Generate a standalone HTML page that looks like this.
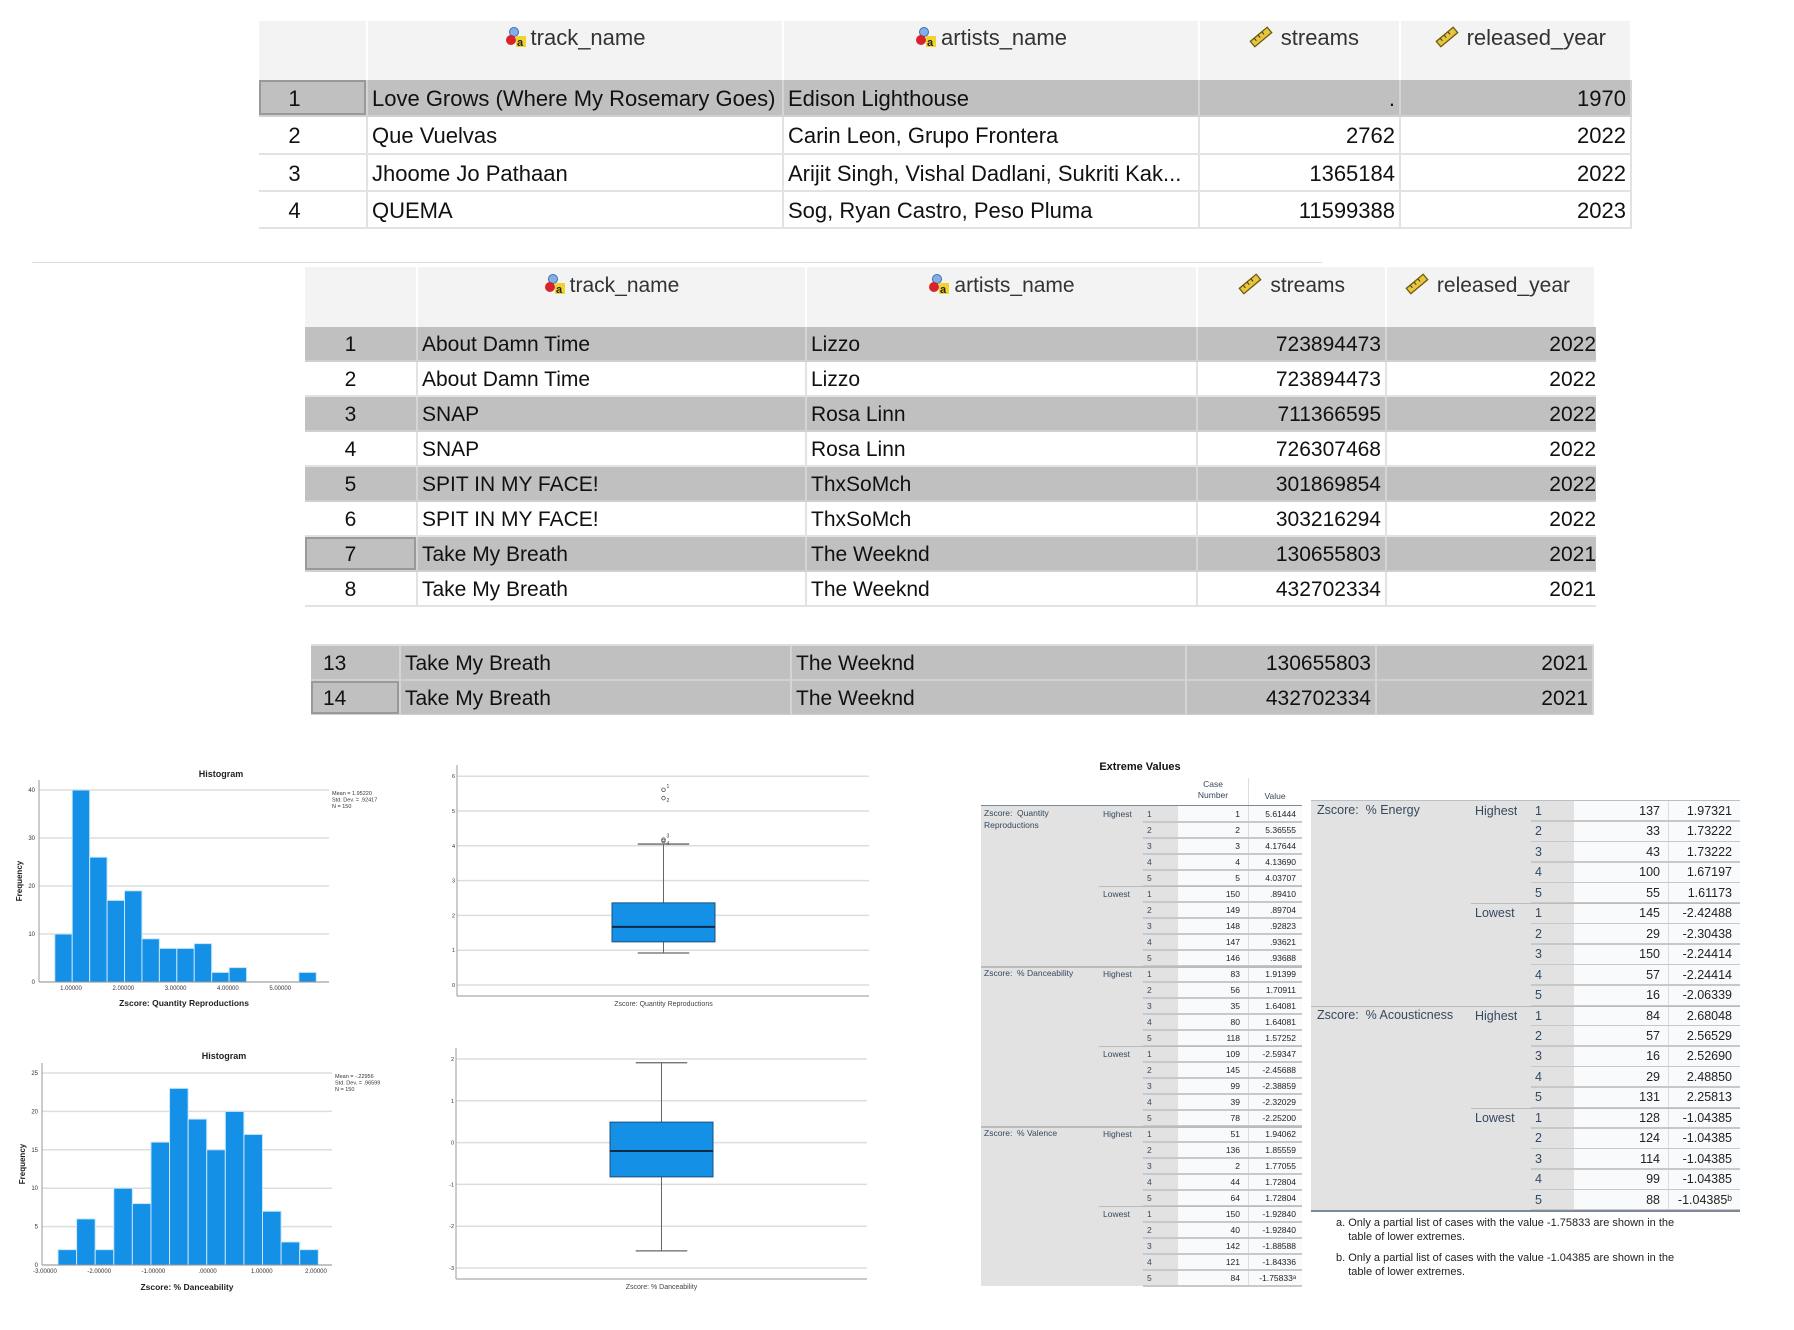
<!DOCTYPE html>
<html><head><meta charset="utf-8">
<style>
body{margin:0;width:1794px;height:1330px;background:#fff;position:relative;overflow:hidden;font-family:"Liberation Sans",Arial,sans-serif;}
.abs{position:absolute;}
.tbl{position:absolute;overflow:hidden;}
.cell{position:absolute;box-sizing:border-box;white-space:nowrap;overflow:hidden;color:#111;}
svg text{font-family:"Liberation Sans",Arial,sans-serif;}
</style></head>
<body>
<div id="tables"></div>
<div class="abs" style="left:32px;top:262px;width:1290px;height:1px;background:#ddd"></div>

<svg id="charts" class="abs" style="left:0;top:0" width="1794" height="1330"></svg>
<div id="ext"></div>

<script>
// ===== Data =====
const hist1Counts=[10,40,26,17,19,9,7,7,8,2,3,0,0,0,2];
const hist1Ticks=["1.00000","2.00000","3.00000","4.00000","5.00000"];
const hist1TickVals=[1,2,3,4,5];
const hist1YTicks=[0,10,20,30,40];
const hist2Counts=[2,6,2,10,8,16,23,19,15,20,17,7,3,2];
const hist2Ticks=["-3.00000","-2.00000","-1.00000",".00000","1.00000","2.00000"];
const hist2TickVals=[-3,-2,-1,0,1,2];
const hist2YTicks=[0,5,10,15,20,25];
const box1Stats=[0.92,1.24,1.67,2.36,4.05];
const box1Outliers=[5.61,5.37,4.18,4.14];
const box1OutLabels=["1","2","3","4"];
const box1YTicks=[0,1,2,3,4,5,6];
const box2Stats=[-2.59,-0.82,-0.20,0.49,1.91];
const box2YTicks=[-3,-2,-1,0,1,2];

const NS="http://www.w3.org/2000/svg";
const svg=document.getElementById('charts');
function mk(tag,attrs,parent){const e=document.createElementNS(NS,tag);for(const k in attrs)e.setAttribute(k,attrs[k]);(parent||svg).appendChild(e);return e;}
function txt(s,attrs,parent){const e=mk('text',attrs,parent);e.textContent=s;return e;}

// ===== Histograms =====
function histogram(cfg,counts,ticks,tickVals,yTicks,name){
  const g=mk('g',{});
  
  
  const x=v=>cfg.x0+(v-cfg.v0)*cfg.unit;
  const y=f=>cfg.yb-f*cfg.fu;
  yTicks.forEach(t=>{
    const l=mk('line',{x1:cfg.ax,x2:cfg.right,y1:y(t),y2:y(t),stroke:'#ddd','stroke-width':1.5},g);
    
    const tt=txt(String(t),{x:cfg.ax-4,y:y(t)+2,'font-size':6,'text-anchor':'end',fill:'#333'},g);
    
  });
  counts.forEach((c,i)=>{
    if(c<=0)return;
    const xa=x(cfg.start+i*cfg.bw),xb=x(cfg.start+(i+1)*cfg.bw);
    const r=mk('rect',{x:xa,y:y(c),width:xb-xa,height:y(0)-y(c),fill:'#1490e6',stroke:'#c8e6fb','stroke-width':1},g);
    
  });
  mk('line',{x1:cfg.ax,x2:cfg.ax,y1:cfg.top,y2:y(0),stroke:'#999','stroke-width':1},g);
  mk('line',{x1:cfg.ax,x2:cfg.right,y1:y(0),y2:y(0),stroke:'#999','stroke-width':1},g);
  ticks.forEach((t,i)=>{
    const tt=txt(t,{x:x(tickVals[i]),y:cfg.yb+8,'font-size':6,'text-anchor':'middle',fill:'#333'},g);
    
  });
  const ti=txt('Histogram',{x:cfg.tx,y:cfg.ty,'font-size':9,'font-weight':'bold','text-anchor':'middle',fill:'#222'},g);
  
  const fy=txt('Frequency',{x:0,y:0,'font-size':8,'font-weight':'bold','text-anchor':'middle',fill:'#222',transform:`translate(${cfg.ax-17},${(cfg.top+y(0))/2}) rotate(-90)`},g);
  
  const xt=txt(cfg.xtitle,{x:cfg.xtx,y:cfg.xty,'font-size':8.5,'font-weight':'bold','text-anchor':'middle',fill:'#222'},g);
  
  cfg.legend.forEach((s,i)=>{
    const lt=txt(s,{x:cfg.right+3,y:cfg.ly+i*6.5,'font-size':5.5,fill:'#333'},g);
    
  });
}
histogram({x0:71,v0:1,unit:52.3,ax:39,top:780,right:329,yb:982,fu:4.8,start:0.69,bw:1/3,tx:221,ty:777,xtitle:'Zscore:  Quantity Reproductions',xtx:184,xty:1006,ly:795,legend:['Mean = 1.95220','Std. Dev. = .92417','N = 150']},hist1Counts,hist1Ticks,hist1TickVals,hist1YTicks,'histogram-quantity-reproductions');
histogram({x0:45,v0:-3,unit:54.2,ax:42,top:1063,right:332,yb:1265,fu:7.68,start:-2.76,bw:0.343,tx:224,ty:1059,xtitle:'Zscore:  % Danceability',xtx:187,xty:1290,ly:1078,legend:['Mean = -.22956','Std. Dev. = .96599','N = 150']},hist2Counts,hist2Ticks,hist2TickVals,hist2YTicks,'histogram-danceability');

// ===== Boxplots =====
function boxplot(cfg,stats,yTicks,outs,outLabels,name){
  const g=mk('g',{});
  
  
  const y=v=>cfg.y0-(v-cfg.v0)*cfg.unit;
  yTicks.forEach(t=>{
    const l=mk('line',{x1:cfg.ax,x2:cfg.right,y1:y(t),y2:y(t),stroke:'#ddd','stroke-width':1.5},g);
    
    const tt=txt(String(t),{x:cfg.ax-2,y:y(t)+2,'font-size':5.5,'text-anchor':'end',fill:'#333'},g);
    
  });
  mk('line',{x1:cfg.ax,x2:cfg.ax,y1:cfg.top,y2:cfg.bottom,stroke:'#aaa','stroke-width':1.2},g);
  mk('line',{x1:cfg.ax,x2:cfg.right,y1:cfg.bottom,y2:cfg.bottom,stroke:'#aaa','stroke-width':1.2},g);
  const c=(cfg.bx1+cfg.bx2)/2, cw=(cfg.bx2-cfg.bx1)/4;
  const w=mk('line',{x1:c,x2:c,y1:y(stats[4]),y2:y(stats[0]),stroke:'#666','stroke-width':1},g);
  
  [stats[0],stats[4]].forEach(v=>{const cap=mk('line',{x1:c-cw,x2:c+cw,y1:y(v),y2:y(v),stroke:'#666','stroke-width':1.3},g);});
  const b=mk('rect',{x:cfg.bx1,y:y(stats[3]),width:cfg.bx2-cfg.bx1,height:y(stats[1])-y(stats[3]),fill:'#1490e6',stroke:'#1c4f7a','stroke-width':1},g);
  
  const m=mk('line',{x1:cfg.bx1,x2:cfg.bx2,y1:y(stats[2]),y2:y(stats[2]),stroke:'#0d2a44','stroke-width':2},g);
  
  outs.forEach((v,i)=>{
    const o=mk('circle',{cx:c,cy:y(v),r:1.8,fill:'none',stroke:'#555','stroke-width':0.8},g);
    
    const ol=txt(outLabels[i],{x:c+3,y:y(v)-(i%2?-4:2),'font-size':5,fill:'#333'},g);
    
  });
  const xt=txt(cfg.label,{x:c,y:cfg.bottom+10,'font-size':7,'text-anchor':'middle',fill:'#444'},g);
  
}
boxplot({ax:457,right:869,top:765,bottom:996,y0:985,v0:0,unit:34.8,bx1:612,bx2:715,label:'Zscore:  Quantity Reproductions'},box1Stats,box1YTicks,box1Outliers,box1OutLabels,'boxplot-quantity-reproductions');
boxplot({ax:456,right:867,top:1048,bottom:1279,y0:1059,v0:2,unit:41.8,bx1:610,bx2:713,label:'Zscore:  % Danceability'},box2Stats,box2YTicks,[],[],'boxplot-danceability');

// ===== Data view tables =====
const T=document.getElementById('tables');
function icon(kind){
  if(kind==='nom') return '<svg width="22" height="22" viewBox="0 0 22 22" style="vertical-align:-3px;margin-right:4px"><circle cx="9" cy="6" r="4.5" fill="#7fb0e6" stroke="#3a6fb0"/><circle cx="6" cy="14" r="5" fill="#d8232a"/><rect x="11" y="10" width="10" height="11" fill="#f2d22c"/><text x="12" y="20" font-size="11" font-weight="bold" fill="#222">a</text></svg>';
  return '<svg width="24" height="22" viewBox="0 0 24 22" style="vertical-align:-3px;margin-right:8px"><g transform="rotate(-40 12 11)"><rect x="1" y="7.5" width="22" height="7" fill="#e8c53a" stroke="#6b5a10" stroke-width="1.3"/><line x1="6" y1="8" x2="6" y2="11" stroke="#333"/><line x1="11" y1="8" x2="11" y2="11" stroke="#333"/><line x1="16" y1="8" x2="16" y2="11" stroke="#333"/></g></svg>';
}
function dataTable(opt){
  const d=document.createElement('div');d.className='tbl';
  
  
  d.style.cssText=`left:${opt.cols[0]}px;top:${opt.top}px;width:${opt.cols[5]-opt.cols[0]}px;height:${opt.height}px;font-size:${opt.fs}px`;
  T.appendChild(d);
  const X=i=>opt.cols[i]-opt.cols[0];
  let yy=0;
  if(opt.header){
    const hb=document.createElement('div');hb.className='cell';
    hb.style.cssText=`left:0;top:0;width:100%;height:${opt.hh}px;background:#f3f3f3`;d.appendChild(hb);
    const heads=[['',''],['track_name','nom'],['artists_name','nom'],['streams','scale'],['released_year','scale']];
    heads.forEach((h,i)=>{
      const c=document.createElement('div');c.className='cell';
      
      
      c.style.cssText=`left:${X(i)}px;top:0;width:${X(i+1)-X(i)}px;height:${opt.hh}px;border-right:2px solid #fff;text-align:center;padding-top:${opt.hpad}px;color:#333`;
      c.innerHTML=h[1]?icon(h[1])+h[0]:'';
      if(i>=3){c.style.textAlign='right';c.style.paddingRight=(i==3?40:24)+'px';}
      d.appendChild(c);
    });
    yy=opt.hh;
  }
  if(opt.partial){
    const p=document.createElement('div');p.className='cell';
    p.style.cssText=`left:0;top:0;width:100%;height:${opt.partial}px;background:#fff;border-bottom:2px solid #ddd`;
    d.appendChild(p);yy=opt.partial;
  }
  opt.rows.forEach((r,ri)=>{
    const gray=opt.gray(ri);
    for(let i=0;i<5;i++){
      const c=document.createElement('div');c.className='cell';
      
      
      const align=i==0?opt.numAlign:(i>=3?'right':'left');
      let bg=gray?'#c0c0c0':'#fff';
      let extra='';
      if(i==0 && opt.raised && opt.raised.includes(ri)) extra='box-shadow:inset 0 0 0 2px #999;';
      let pad='0 4px';
      if(i==0) pad=opt.numPad;
      if(i==4 && opt.yearPad!==undefined) pad=`0 ${opt.yearPad}px 0 4px`;
      c.style.cssText=`left:${X(i)}px;top:${yy}px;width:${X(i+1)-X(i)}px;height:${opt.rh}px;line-height:${opt.rh}px;background:${bg};border-right:2px solid ${gray?'#d4d4d4':'#e2e2e2'};border-bottom:2px solid ${gray?'#d0d0d0':'#e2e2e2'};text-align:${align};padding:${pad};${extra}color:#111`;
      c.textContent=r[i];
      if(i==4 && opt.yearPad!==undefined && opt.yearPad<0){c.style.borderRight='none';}
      d.appendChild(c);
    }
    yy+=opt.rh;
  });
}
const t1Rows=[["1","Love Grows (Where My Rosemary Goes)","Edison Lighthouse",".","1970"],["2","Que Vuelvas","Carin Leon, Grupo Frontera","2762","2022"],["3","Jhoome Jo Pathaan","Arijit Singh, Vishal Dadlani, Sukriti Kak...","1365184","2022"],["4","QUEMA","Sog, Ryan Castro, Peso Pluma","11599388","2023"]];
dataTable({name:'data-view-table-1',cols:[259,368,784,1200,1401,1632],top:21,height:208,fs:22,header:true,hh:59,hpad:4,rh:37.3,rows:t1Rows,gray:i=>i==0,raised:[0],numAlign:'center',numPad:'0 36px 0 0'});
const t2Rows=[["1","About Damn Time","Lizzo","723894473","2022"],["2","About Damn Time","Lizzo","723894473","2022"],["3","SNAP","Rosa Linn","711366595","2022"],["4","SNAP","Rosa Linn","726307468","2022"],["5","SPIT IN MY FACE!","ThxSoMch","301869854","2022"],["6","SPIT IN MY FACE!","ThxSoMch","303216294","2022"],["7","Take My Breath","The Weeknd","130655803","2021"],["8","Take My Breath","The Weeknd","432702334","2021"]];
dataTable({name:'data-view-table-2',cols:[305,418,807,1198,1387,1596],top:267,height:340,fs:21,header:true,hh:60,hpad:6,rh:35,rows:t2Rows,gray:i=>i%2==0,raised:[6],numAlign:'center',numPad:'0 20px 0 0',yearPad:-8});
const t3Rows=[["13","Take My Breath","The Weeknd","130655803","2021"],["14","Take My Breath","The Weeknd","432702334","2021"]];
dataTable({name:'data-view-table-3',cols:[311,401,792,1187,1377,1594],top:635,height:80,fs:21,header:false,partial:11,rh:35,rows:t3Rows,gray:i=>true,raised:[1],numAlign:'left',numPad:'0 0 0 12px'});

// ===== Extreme values tables =====
const E=document.getElementById('ext');
const leftGroups=["Zscore:  Quantity\nReproductions","Zscore:  % Danceability","Zscore:  % Valence"];
const leftCases=[[1,2,3,4,5,150,149,148,147,146],[83,56,35,80,118,109,145,99,39,78],[51,136,2,44,64,150,40,142,121,84]];
const leftValues=[["5.61444","5.36555","4.17644","4.13690","4.03707",".89410",".89704",".92823",".93621",".93688"],["1.91399","1.70911","1.64081","1.64081","1.57252","-2.59347","-2.45688","-2.38859","-2.32029","-2.25200"],["1.94062","1.85559","1.77055","1.72804","1.72804","-1.92840","-1.92840","-1.88588","-1.84336","-1.75833ᵃ"]];
const rightGroups=["Zscore:  % Energy","Zscore:  % Acousticness"];
const rightCases=[[137,33,43,100,55,145,29,150,57,16],[84,57,16,29,131,128,124,114,99,88]];
const rightValues=[["1.97321","1.73222","1.73222","1.67197","1.61173","-2.42488","-2.30438","-2.24414","-2.24414","-2.06339"],["2.68048","2.56529","2.52690","2.48850","2.25813","-1.04385","-1.04385","-1.04385","-1.04385","-1.04385ᵇ"]];

function div(css,text,name,parent){const e=document.createElement('div');e.className='cell';e.style.cssText=css;if(text!==undefined)e.textContent=text;(parent||E).appendChild(e);return e;}
function extremeTable(o,groups,cases,values,name){
  const wrap=document.createElement('div');wrap.className='tbl';
  
  
  wrap.style.cssText=`left:${o.L}px;top:${o.T}px;width:${o.R-o.L}px;height:${o.rh*groups.length*10+2}px;font-size:${o.fs}px;color:#2c3e50`;
  E.appendChild(wrap);
  const W=o.R-o.L, H=o.rh*groups.length*10;
  div(`left:0;top:0;width:${o.gx-o.L}px;height:${H}px;background:#e2e2e2`,undefined,'label-area',wrap);
  div(`left:${o.gx-o.L}px;top:0;width:${o.R-o.gx}px;height:${H}px;background:#f9fafb`,undefined,'value-area',wrap);
  div(`left:${o.vl-o.L}px;top:0;width:1px;height:${H}px;background:#ddd`,undefined,'column-divider',wrap);
  groups.forEach((gname,gi)=>{
    const gy=gi*10*o.rh;
    div(`left:${o.lx-o.L}px;top:${gy+2}px;white-space:pre;line-height:${o.fs+3}px;color:#34495e`,gname,'variable-label',wrap);
    ['Highest','Lowest'].forEach((h,hi)=>{
      div(`left:${o.hx-o.L}px;top:${gy+hi*5*o.rh}px;height:${o.rh}px;line-height:${o.rh}px;color:#34495e`,h,'extreme-direction-label',wrap);
      if(hi==1) div(`left:${o.hx-o.L-4}px;top:${gy+5*o.rh}px;width:${o.R-o.hx+4}px;height:1px;background:#bbb`,undefined,'row-line',wrap);
      for(let k=0;k<5;k++){
        const ry=gy+(hi*5+k)*o.rh, idx=hi*5+k;
        div(`left:${o.nx-o.L}px;top:${ry}px;height:${o.rh}px;line-height:${o.rh}px;color:#34495e`,String(k+1),'rank-number',wrap);
        div(`left:${o.gx-o.L}px;top:${ry}px;width:${o.cr-o.gx}px;height:${o.rh}px;line-height:${o.rh}px;text-align:right;color:#222`,String(cases[gi][idx]),'case-number',wrap);
        div(`left:${o.vl-o.L}px;top:${ry}px;width:${o.vr-o.vl}px;height:${o.rh}px;line-height:${o.rh}px;text-align:right;color:#222`,values[gi][idx],'extreme-value',wrap);
        div(`left:${o.nx-o.L-4}px;top:${ry+o.rh-1}px;width:${o.R-o.nx+4}px;height:1.5px;background:#c8c8c8`,undefined,'row-line',wrap);
      }
    });
    if(gi>0) div(`left:0;top:${gy}px;width:${W}px;height:1.5px;background:#bbb`,undefined,'group-line',wrap);
  });
}
div(`left:1090px;top:761px;width:100px;text-align:center;font-size:11px;font-weight:bold;color:#111`,'Extreme Values','table-title');
div(`left:1178px;top:779px;width:70px;text-align:center;font-size:8.5px;line-height:11px;color:#34495e;white-space:pre`,'Case\nNumber','column-header-case-number');
div(`left:1248px;top:791px;width:54px;text-align:center;font-size:8.5px;color:#34495e`,'Value','column-header-value');
div(`left:1248px;top:778px;width:1px;height:28px;background:#ddd`,undefined,'column-divider');
div(`left:981px;top:805px;width:321px;height:1.5px;background:#7a8a99`,undefined,'header-line');
extremeTable({L:981,R:1302,T:806,rh:16,fs:8.5,lx:984,hx:1103,nx:1147,gx:1178,cr:1240,vl:1248,vr:1296},leftGroups,leftCases,leftValues,'extreme-values-table-left');
div(`left:1311px;top:800px;width:429px;height:1.5px;background:#b8c0c8`,undefined,'header-line');
extremeTable({L:1311,R:1740,T:801,rh:20.45,fs:12.5,lx:1317,hx:1475,nx:1535,gx:1574,cr:1660,vl:1668,vr:1732},rightGroups,rightCases,rightValues,'extreme-values-table-right');
div(`left:1311px;top:1210px;width:429px;height:2px;background:#7a8a99`,undefined,'footer-line');
div(`left:1336px;top:1216px;font-size:11px;line-height:14px;color:#222;white-space:pre`,'a. Only a partial list of cases with the value -1.75833 are shown in the\n    table of lower extremes.','footnote-a');
div(`left:1336px;top:1251px;font-size:11px;line-height:14px;color:#222;white-space:pre`,'b. Only a partial list of cases with the value -1.04385 are shown in the\n    table of lower extremes.','footnote-b');
</script>
</body></html>
